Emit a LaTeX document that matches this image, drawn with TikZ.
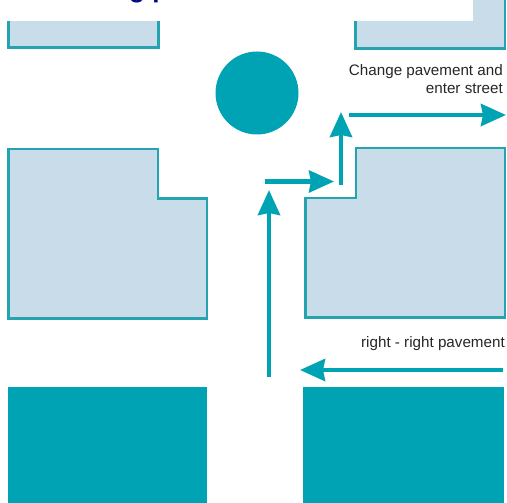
\documentclass[tikz,border=0pt]{standalone}
\usepackage{fontspec}
\setmainfont{Liberation Sans}
\usetikzlibrary{arrows.meta}
\definecolor{teal1}{HTML}{00A3B4}
\definecolor{edge1}{HTML}{25A3B0}
\definecolor{pale1}{HTML}{C8DCE9}
\definecolor{navy1}{HTML}{000A80}
\tikzset{
  x=1pt,y=-1pt,
  blockfill/.style={fill=pale1,draw=none},
  blockedge/.style={draw=edge1,line width=2.6pt,line join=miter},
  solidblock/.style={fill=teal1,draw=none},
  walk/.style={draw=teal1,line width=4.4pt,-{Stealth[length=25pt,width=22pt,inset=2pt]}},
  note/.style={inner sep=0pt,font=\fontsize{15.2}{18}\selectfont,text=black!85,anchor=base east},
}
\begin{document}
\begin{tikzpicture}
\useasboundingbox (0,0) rectangle (507,503);
% cropped title
\begin{scope}
\clip (0,0) rectangle (507,4);
\node[inner sep=0pt,anchor=base west,font=\bfseries\fontsize{26}{30}\selectfont,text=navy1] (title) at (129,-2) {g p};
\end{scope}
% top blocks
\fill[blockfill] (7,21) -- (159,21) -- (159,48) -- (7,48) -- cycle;
\draw[blockedge] (8.3,21) -- (8.3,47.3) -- (158.2,47.3) -- (158.2,21);
\fill[blockfill] (354,21) -- (473,21) -- (473,0) -- (505,0) -- (505,49) -- (354,49) -- cycle;
\draw[blockedge] (355.3,21) -- (355.3,48.5) -- (505,48.5) -- (505,0);
% middle blocks
\draw[blockfill,blockedge] (8.3,149) -- (158,149) -- (158,198.3) -- (207,198.3) -- (207,318.5) -- (8.3,318.5) -- cycle;
\draw[blockfill,blockedge] (305.5,198) -- (356,198) -- (356,148) -- (505,148) -- (505,317.5) -- (305.5,317.5) -- cycle;
% bottom blocks
\fill[solidblock] (8,387) rectangle (207,503);
\fill[solidblock] (303,387) rectangle (504,503);
% circle
\node[circle,fill=teal1,draw=none,minimum size=83pt,inner sep=0pt] (round) at (257,93) {};
% arrows
\coordinate (a1s) at (269,377); \coordinate (a1e) at (269,190);
\coordinate (a2s) at (265,181.5); \coordinate (a2e) at (334,181.5);
\coordinate (a3s) at (341,185); \coordinate (a3e) at (341,112);
\coordinate (a4s) at (349,115); \coordinate (a4e) at (506,115);
\coordinate (a5s) at (503,370); \coordinate (a5e) at (300,370);
\draw[walk] (a1s) -- (a1e);
\draw[walk] (a2s) -- (a2e);
\draw[walk] (a3s) -- (a3e);
\draw[walk] (a4s) -- (a4e);
\draw[walk] (a5s) -- (a5e);
% labels
\node[note] (n1) at (503,76) {Change pavement and};
\node[note] (n2) at (503,94) {enter street};
\node[note] (n3) at (505,347) {right - right pavement};
\end{tikzpicture}
\end{document}
